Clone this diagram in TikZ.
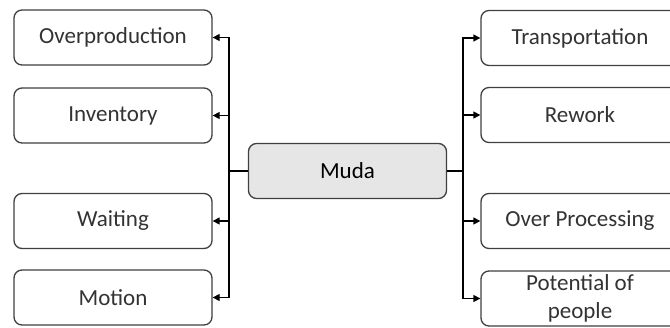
\documentclass[tikz,border=0pt]{standalone}
\usepackage{fontspec}
\setmainfont{Carlito}
\usetikzlibrary{arrows.meta}
\definecolor{edge}{HTML}{404040}
\definecolor{ink}{HTML}{333333}
\definecolor{hub}{HTML}{E6E6E6}
\tikzset{
  wbox/.style={draw=edge, line width=1.3pt, rounded corners=8pt, fill=white,
    minimum width=198pt, minimum height=55pt, text=ink, font=\fontsize{23}{28}\selectfont,
    inner sep=0pt, align=center},
  hubbox/.style={wbox, fill=hub, text=black},
  link/.style={draw=black, line width=1.3pt},
  arr/.style={link, -{Triangle[length=7pt,width=7pt]}}
}
\begin{document}
\begin{tikzpicture}[x=1pt,y=-1pt]
  \useasboundingbox (0,0) rectangle (670,327);
  \clip (0,0) rectangle (670,327);
  % central node
  \node[hubbox] (muda) at (347.5,171) {Muda};
  % left branch
  \node[wbox] (over) at (113,37.5)  {Overproduction};
  \node[wbox] (inv)  at (113,115.5) {Inventory};
  \node[wbox] (wait) at (113,221)   {Waiting};
  \node[wbox] (mot)  at (113,297.5) {Motion};
  % right branch
  \node[wbox] (trans) at (580,38)    {Transportation};
  \node[wbox] (rew)   at (580,115)   {Rework};
  \node[wbox] (proc)  at (580,221)   {Over Processing};
  \node[wbox] (pot)   at (580,298.5) {Potential of\\people};
  % trunk junctions
  \coordinate (jl) at (229,171);
  \coordinate (jr) at (463,171);
  \draw[link] (muda.west) -- (jl);
  \draw[link] (muda.east) -- (jr);
  \foreach \t in {over,inv,wait,mot} \draw[arr] (jl) |- (\t.east);
  \foreach \t in {trans,rew,proc,pot} \draw[arr] (jr) |- (\t.west);
\end{tikzpicture}
\end{document}
